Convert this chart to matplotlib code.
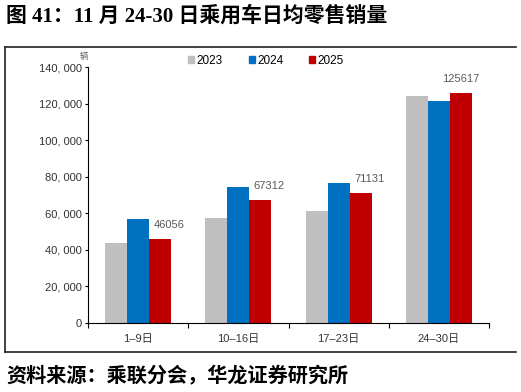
import matplotlib as mpl
mpl.use('Agg')
import matplotlib.pyplot as plt
import numpy as np
from matplotlib.lines import Line2D
from matplotlib.patches import Patch

plt.rcParams['font.family'] = ['Liberation Sans', 'Noto Sans CJK SC']

categories = ['1–9日', '10–16日', '17–23日', '24–30日']
years = ['2023', '2024', '2025']
sales_2023 = [43700, 57300, 61000, 124300]
sales_2024 = [57000, 74500, 76500, 121200]
sales_2025 = [46056, 67312, 71131, 125617]
colors = ['#BFBFBF', '#0070C0', '#C00000']

W, H = 521, 392
fig = plt.figure(figsize=(W / 100, H / 100), dpi=100)
ax = fig.add_axes([88 / W, 1 - 323 / H, (489 - 88) / W, (323 - 67) / H])

x = np.arange(len(categories))
bw = 0.22
series = [sales_2023, sales_2024, sales_2025]
for i, (vals, c) in enumerate(zip(series, colors)):
    ax.bar(x + (i - 1) * bw, vals, width=bw, color=c, linewidth=0)

# labels above the 2025 bars
dx = [9, 9, 9, 0]
for xi, v, d in zip(x, sales_2025, dx):
    ax.annotate(str(v), (xi + bw, v), xytext=(d * 0.72, 10), textcoords='offset points',
                ha='center', va='center', fontsize=8, color='#595959')

ax.set_xlim(-0.5, 3.5)
ax.set_ylim(0, 140000)
ax.set_yticks(np.arange(0, 140001, 20000))
ax.set_yticklabels(['0'] + ['{:,}'.format(v).replace(',', ', ') for v in range(20000, 140001, 20000)])
ax.set_xticks(x)
ax.set_xticklabels(categories)
ax.set_xticks(np.arange(-0.5, 4, 1), minor=True)
ax.tick_params(axis='x', which='major', length=0, pad=8, labelsize=8, colors='#333333')
ax.tick_params(axis='x', which='minor', length=3.5, width=0.8, direction='out')
ax.tick_params(axis='y', length=2.5, width=0.8, pad=2, labelsize=8, labelcolor='#333333')
for s in ['top', 'right']:
    ax.spines[s].set_visible(False)
for s in ['left', 'bottom']:
    ax.spines[s].set_linewidth(0.8)

ax.annotate('辆', (0, 1), xycoords='axes fraction', xytext=(-3, 4), textcoords='offset points',
            fontsize=6, color='#595959', ha='center', va='bottom')

handles = [Patch(color=c) for c in colors]
fig.legend(handles, years, loc='center', bbox_to_anchor=(266 / W, 1 - 61 / H), ncol=3,
           frameon=False, fontsize=8.5, handlelength=0.5, handleheight=0.5,
           handletextpad=0.2, columnspacing=2.2)

# report frame
lc = '#222222'
fig.add_artist(Line2D([5 / W, 516 / W], [1 - 47 / H, 1 - 47 / H], color=lc, lw=1.2))
fig.add_artist(Line2D([5 / W, 516 / W], [1 - 352 / H, 1 - 352 / H], color=lc, lw=1.2))
fig.add_artist(Line2D([5 / W, 5 / W], [1 - 47 / H, 1 - 352 / H], color=lc, lw=1.2))

fig.text(6 / W, 1 - 16 / H, '图 41：11 月 24-30 日乘用车日均零售销量', fontsize=15,
         fontweight='bold', family=['Liberation Serif', 'Noto Sans CJK SC'], va='center')
fig.text(6 / W, 1 - 375 / H, '资料来源：乘联分会，华龙证券研究所', fontsize=14.5,
         fontweight='bold', family=['Noto Sans CJK SC'], va='center')

fig.savefig('out.png', dpi=100)
